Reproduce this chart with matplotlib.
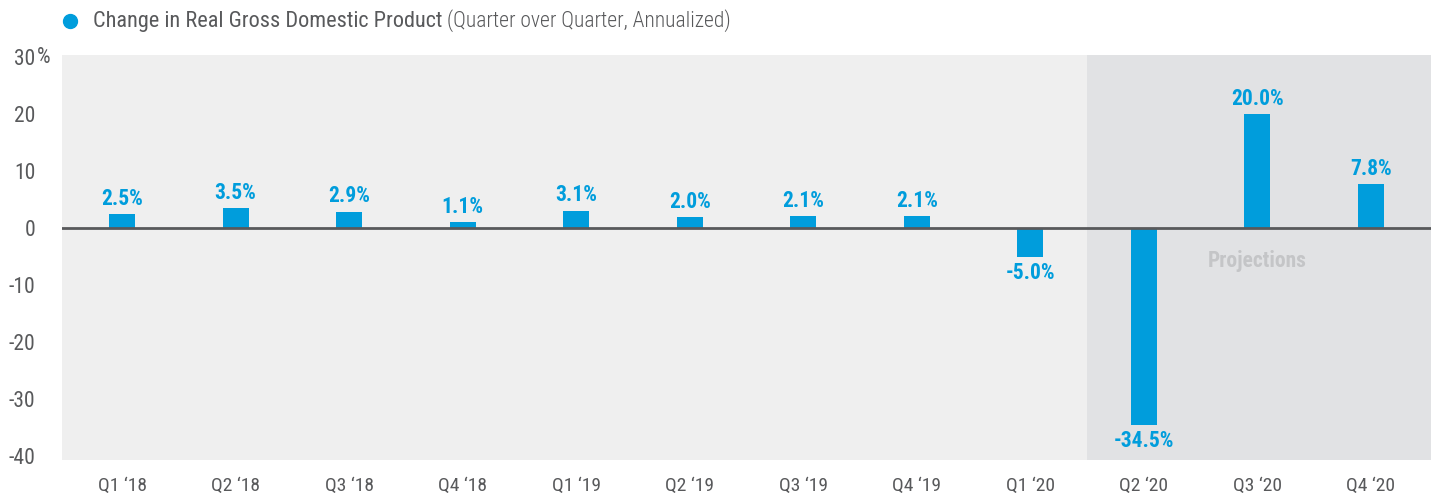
import matplotlib.pyplot as plt
from matplotlib import font_manager

quarters = ["Q1 \u201818", "Q2 \u201818", "Q3 \u201818", "Q4 \u201818",
            "Q1 \u201819", "Q2 \u201819", "Q3 \u201819", "Q4 \u201819",
            "Q1 \u201820", "Q2 \u201820", "Q3 \u201820", "Q4 \u201820"]
gdp_change = [2.5, 3.5, 2.9, 1.1, 3.1, 2.0, 2.1, 2.1, -5.0, -34.5, 20.0, 7.8]
yticks = [30, 20, 10, 0, -10, -20, -30, -40]
first_projection = 9

blue = "#009ddc"
dark = "#58595b"

names = {f.name for f in font_manager.fontManager.ttflist}
fam = [n for n in ["Roboto Condensed", "Liberation Sans Narrow", "Roboto"] if n in names] + ["DejaVu Sans"]
plt.rcParams["font.family"] = fam
plt.rcParams["font.stretch"] = "condensed"

fig = plt.figure(figsize=(14.34, 4.98), dpi=100)
ax = fig.add_axes([62 / 1434, 38 / 498, 1369 / 1434, 405 / 498])
ax.set_facecolor("#efefef")

x = list(range(len(quarters)))
ax.set_xlim(-0.53, len(quarters) - 0.47)
ax.set_ylim(-40.7, 30.4)
ax.axvspan(first_projection - 0.5, len(quarters), color="#e1e2e4", zorder=0, lw=0)

ax.bar(x, gdp_change, width=0.23, color=blue, zorder=2)
ax.axhline(0, color=dark, lw=2, zorder=3)

for xi, v in zip(x, gdp_change):
    if v >= 0:
        ax.annotate(f"{v:.1f}%", (xi, v), xytext=(0, 3), textcoords="offset points",
                    ha="center", va="bottom", color=blue, fontsize=15.5, fontweight="bold")
    else:
        ax.annotate(f"{v:.1f}%", (xi, v), xytext=(0, -4), textcoords="offset points",
                    ha="center", va="top", color=blue, fontsize=15.5, fontweight="bold")

ax.text((first_projection + len(quarters) - 1) / 2, -5.8, "Projections", ha="center", va="center",
        color="#c4c5c7", fontsize=15.5, fontweight="bold")

ax.set_xticks(x)
ax.set_xticklabels(quarters, fontsize=14, color=dark)
ax.set_yticks(yticks)
ax.set_yticklabels([str(t) for t in yticks], fontsize=15.5, color=dark)
ax.tick_params(length=0)
ax.tick_params(axis="y", pad=19)
ax.tick_params(axis="x", pad=12)
for s in ax.spines.values():
    s.set_visible(False)

# percent sign next to the top tick
ax.annotate("%", (0, 30), xycoords=("axes fraction", "data"), xytext=(-18, 0),
            textcoords="offset points", ha="left", va="center", fontsize=15.5, color=dark)

# legend line
fig.add_artist(plt.Line2D([70 / 1434], [1 - 21 / 498], marker="o", markersize=10,
                          color=blue, lw=0, transform=fig.transFigure))
t1 = fig.text(93 / 1434, 1 - 21 / 498, "Change in Real Gross Domestic Product", fontsize=16,
              color=dark, va="center", ha="left")
ax.annotate("(Quarter over Quarter, Annualized)", (1, 0.5), xycoords=t1, xytext=(3, 0),
            textcoords="offset points", ha="left", va="center", fontsize=15.5,
            color=dark, fontweight="light", annotation_clip=False)

fig.savefig("out.png", dpi=100)
